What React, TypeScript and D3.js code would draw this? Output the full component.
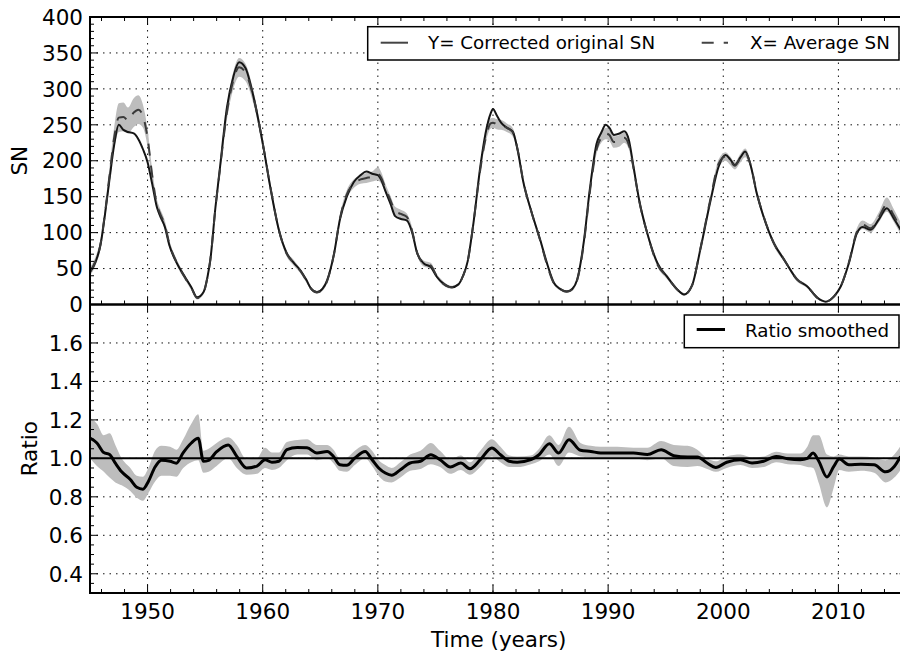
import React from 'react';
import * as d3 from 'd3';

// ---------- data ----------
const yearTicks = [1950, 1960, 1970, 1980, 1990, 2000, 2010];
const snTicks = [0, 50, 100, 150, 200, 250, 300, 350, 400];
const ratioTicks = [0.4, 0.6, 0.8, 1.0, 1.2, 1.4, 1.6];

const legendTop = ['Y= Corrected original SN', 'X= Average SN'];
const legendBottom = ['Ratio smoothed'];

// Y = corrected original SN : [year, value]
const correctedSN: [number, number][] = [
  [1945.0, 45], [1945.5, 60], [1945.9, 82], [1946.3, 125], [1946.7, 175], [1947.1, 222], [1947.5, 250], [1947.9, 243],
  [1948.3, 240], [1948.8, 238], [1949.2, 230], [1949.6, 216], [1950.0, 198], [1950.4, 168], [1950.8, 136], [1951.1, 123],
  [1951.5, 108], [1951.9, 82], [1952.4, 62], [1952.8, 50], [1953.3, 37], [1953.8, 24], [1954.3, 10], [1954.85, 17],
  [1955.2, 38], [1955.45, 62], [1955.9, 136], [1956.3, 192], [1956.9, 275], [1957.45, 317], [1957.95, 337], [1958.5, 329],
  [1959.2, 289], [1960.05, 220], [1960.65, 164], [1961.4, 104], [1962.1, 71], [1962.7, 58], [1963.3, 47], [1963.8, 34],
  [1964.2, 22], [1964.7, 17], [1965.2, 22], [1965.6, 34], [1966.2, 71], [1966.7, 118], [1967.3, 150], [1967.9, 170],
  [1968.5, 180], [1969.0, 185], [1969.5, 182], [1970.0, 180], [1970.3, 173], [1970.65, 158], [1971.1, 140], [1971.5, 123],
  [1972.0, 119], [1972.5, 117], [1973.0, 99], [1973.4, 72], [1974.0, 57], [1974.6, 52], [1975.1, 39], [1975.7, 29],
  [1976.4, 24], [1977.0, 28], [1977.4, 40], [1977.8, 60], [1978.3, 113], [1978.9, 192], [1979.35, 238], [1979.8, 266],
  [1980.0, 272], [1980.3, 264], [1980.7, 253], [1981.2, 246], [1981.7, 241], [1982.2, 210], [1982.6, 173], [1983.3, 131],
  [1984.1, 90], [1984.7, 57], [1985.3, 30], [1985.8, 22], [1986.4, 18], [1986.9, 22], [1987.3, 34], [1987.9, 89],
  [1988.4, 159], [1989.0, 224], [1989.4, 239], [1989.8, 250], [1990.1, 246], [1990.5, 236], [1991.0, 238], [1991.4, 241],
  [1991.8, 229], [1992.2, 192], [1992.7, 145], [1993.4, 99], [1994.3, 57], [1995.1, 39], [1996.0, 21], [1996.6, 14],
  [1997.3, 27], [1998.0, 76], [1998.9, 145], [1999.6, 192], [2000.2, 208], [2000.6, 202], [2001.0, 194], [2001.5, 205],
  [2001.9, 213], [2002.4, 192], [2002.9, 155], [2003.5, 122], [2004.4, 85], [2005.3, 62], [2006.4, 35], [2007.3, 25],
  [2008.2, 9], [2008.9, 4], [2009.6, 11], [2010.2, 25], [2010.9, 57], [2011.6, 99], [2012.1, 108], [2012.8, 104],
  [2013.5, 118], [2014.2, 134], [2014.8, 120], [2015.4, 104],
];

// X = average SN : [year, value, band half-width]
const averageSN: [number, number, number][] = [
  [1945.0, 46, 6], [1945.5, 61, 6], [1945.9, 83, 7], [1946.3, 127, 9], [1946.7, 180, 12], [1947.1, 232, 15],
  [1947.5, 260, 20], [1947.9, 261, 20], [1948.3, 256, 18], [1948.8, 267, 20], [1949.2, 271, 20], [1949.6, 262, 16],
  [1950.0, 232, 12], [1950.4, 180, 9], [1950.8, 140, 7], [1951.1, 126, 7], [1951.5, 111, 6], [1951.9, 84, 5],
  [1952.4, 63, 4], [1952.8, 50, 4], [1953.3, 36, 3], [1953.8, 23, 3], [1954.3, 9, 2], [1954.85, 16, 2],
  [1955.2, 38, 3], [1955.45, 62, 4], [1955.9, 135, 6], [1956.3, 190, 8], [1956.9, 268, 10], [1957.45, 312, 12],
  [1957.95, 330, 13], [1958.5, 323, 12], [1959.2, 288, 9], [1960.05, 220, 7], [1960.65, 165, 6], [1961.4, 104, 5],
  [1962.1, 70, 4], [1962.7, 58, 4], [1963.3, 46, 3], [1963.8, 33, 3], [1964.2, 22, 2], [1964.7, 17, 2],
  [1965.2, 21, 2], [1965.6, 33, 3], [1966.2, 71, 4], [1966.7, 119, 5], [1967.3, 153, 6], [1967.9, 168, 6],
  [1968.5, 174, 6], [1969.0, 176, 7], [1969.5, 178, 7], [1970.0, 182, 9], [1970.3, 176, 8], [1970.65, 162, 6],
  [1971.1, 145, 6], [1971.5, 130, 6], [1972.0, 126, 6], [1972.5, 122, 5], [1973.0, 101, 5], [1973.4, 73, 4],
  [1974.0, 57, 4], [1974.6, 54, 4], [1975.1, 40, 3], [1975.7, 29, 3], [1976.4, 24, 2], [1977.0, 28, 2],
  [1977.4, 40, 3], [1977.8, 60, 3], [1978.3, 113, 4], [1978.9, 188, 5], [1979.35, 230, 6], [1979.8, 252, 7],
  [1980.0, 253, 7], [1980.3, 251, 7], [1980.7, 250, 7], [1981.2, 246, 6], [1981.7, 240, 6], [1982.2, 211, 5],
  [1982.6, 174, 5], [1983.3, 131, 4], [1984.1, 89, 4], [1984.7, 55, 3], [1985.3, 29, 2], [1985.8, 22, 2],
  [1986.4, 18, 2], [1986.9, 21, 2], [1987.3, 33, 2], [1987.9, 86, 3], [1988.4, 155, 5], [1989.0, 216, 6],
  [1989.4, 232, 7], [1989.8, 238, 8], [1990.1, 236, 8], [1990.5, 226, 8], [1991.0, 228, 8], [1991.4, 232, 7],
  [1991.8, 222, 6], [1992.2, 190, 5], [1992.7, 144, 5], [1993.4, 99, 4], [1994.3, 55, 3], [1995.1, 39, 3],
  [1996.0, 21, 2], [1996.6, 14, 2], [1997.3, 27, 2], [1998.0, 77, 3], [1998.9, 148, 5], [1999.6, 196, 6],
  [2000.2, 206, 6], [2000.6, 200, 6], [2001.0, 193, 5], [2001.5, 204, 6], [2001.9, 211, 6], [2002.4, 193, 5],
  [2002.9, 156, 5], [2003.5, 123, 4], [2004.4, 85, 4], [2005.3, 62, 3], [2006.4, 35, 3], [2007.3, 25, 2],
  [2008.2, 9, 2], [2008.9, 4, 1], [2009.6, 11, 2], [2010.2, 25, 2], [2010.9, 58, 3], [2011.6, 101, 5],
  [2012.1, 111, 6], [2012.8, 106, 6], [2013.5, 121, 7], [2014.2, 139, 10], [2014.8, 124, 9], [2015.4, 106, 8],
];

// Ratio smoothed : [year, value, low, high]
const ratioSmoothed: [number, number, number, number][] = [
  [1945.0, 1.105, 1.0, 1.21], [1945.6, 1.08, 0.96, 1.18], [1946.2, 1.03, 0.93, 1.12], [1946.7, 1.02, 0.9, 1.13],
  [1947.2, 0.975, 0.875, 1.07], [1947.75, 0.93, 0.86, 1.0], [1948.5, 0.89, 0.83, 0.95], [1949.06, 0.85, 0.795, 0.91],
  [1949.6, 0.84, 0.78, 0.905], [1950.07, 0.88, 0.82, 0.95], [1950.65, 0.955, 0.88, 1.04], [1951.2, 0.99, 0.91, 1.065],
  [1951.96, 0.985, 0.91, 1.06], [1952.5, 0.975, 0.905, 1.045], [1953.1, 1.03, 0.95, 1.1], [1953.8, 1.08, 0.98, 1.18],
  [1954.4, 1.105, 0.99, 1.23], [1954.85, 0.985, 0.925, 1.04], [1955.3, 0.99, 0.93, 1.05], [1956.0, 1.035, 0.96, 1.08],
  [1957.0, 1.07, 1.0, 1.11], [1957.75, 1.01, 0.95, 1.07], [1958.6, 0.95, 0.915, 0.995], [1959.5, 0.96, 0.92, 1.0],
  [1960.2, 0.993, 0.95, 1.055], [1960.8, 0.98, 0.94, 1.03], [1961.4, 0.985, 0.95, 1.03], [1962.1, 1.045, 0.99, 1.085],
  [1963.0, 1.057, 1.02, 1.095], [1963.85, 1.055, 1.02, 1.1], [1964.7, 1.028, 0.99, 1.07], [1965.6, 1.036, 1.0, 1.07],
  [1966.15, 1.01, 0.975, 1.045], [1966.7, 0.967, 0.935, 1.0], [1967.3, 0.964, 0.93, 1.005], [1968.0, 1.002, 0.965, 1.04],
  [1968.9, 1.036, 1.0, 1.07], [1969.5, 0.993, 0.96, 1.04], [1970.07, 0.95, 0.91, 0.99], [1970.65, 0.924, 0.88, 0.965],
  [1971.2, 0.912, 0.875, 0.95], [1971.96, 0.941, 0.9, 0.98], [1972.8, 0.976, 0.935, 1.02], [1973.7, 0.985, 0.945, 1.04],
  [1974.6, 1.019, 0.97, 1.08], [1975.4, 0.993, 0.955, 1.04], [1976.3, 0.955, 0.92, 0.995], [1977.2, 0.976, 0.94, 1.015],
  [1978.0, 0.946, 0.915, 0.98], [1978.9, 0.993, 0.955, 1.04], [1979.9, 1.054, 1.01, 1.1], [1980.65, 1.019, 0.98, 1.06],
  [1981.4, 0.985, 0.955, 1.015], [1982.1, 0.98, 0.955, 1.01], [1983.3, 0.993, 0.97, 1.015], [1984.0, 1.019, 0.985, 1.05],
  [1984.9, 1.076, 1.02, 1.12], [1985.7, 1.028, 0.96, 1.07], [1986.6, 1.097, 1.03, 1.165], [1987.6, 1.042, 1.01, 1.08],
  [1988.5, 1.036, 1.005, 1.065], [1989.35, 1.028, 1.0, 1.06], [1990.8, 1.028, 1.0, 1.06], [1992.2, 1.028, 1.0, 1.055],
  [1993.4, 1.02, 0.99, 1.055], [1994.6, 1.045, 1.0, 1.09], [1995.7, 1.014, 0.96, 1.07], [1996.9, 1.007, 0.955, 1.065],
  [1997.75, 1.007, 0.96, 1.045], [1998.6, 0.976, 0.945, 1.0], [1999.35, 0.953, 0.93, 0.985], [2000.3, 0.98, 0.95, 1.01],
  [2001.5, 0.993, 0.965, 1.02], [2002.5, 0.976, 0.95, 1.005], [2003.5, 0.985, 0.955, 1.01], [2004.6, 1.01, 0.98, 1.035],
  [2005.6, 0.998, 0.97, 1.025], [2006.7, 0.993, 0.965, 1.025], [2007.3, 1.0, 0.955, 1.06], [2007.8, 1.028, 0.95, 1.12],
  [2008.3, 0.985, 0.87, 1.12], [2009.0, 0.903, 0.745, 1.02], [2009.6, 0.958, 0.85, 1.01], [2010.07, 0.997, 0.94, 1.02],
  [2010.9, 0.967, 0.93, 1.01], [2011.96, 0.97, 0.935, 1.01], [2013.1, 0.967, 0.925, 1.005], [2014.1, 0.93, 0.875, 0.99],
  [2014.85, 0.958, 0.9, 1.02], [2015.4, 1.01, 0.94, 1.065],
];

// ---------- layout ----------
const W = 900;
const H = 655;
const L = 90;
const R = 907.5;
const T1 = 17;
const B1 = 304.5;
const B2 = 593;
const FONT = 'DejaVu Sans, sans-serif';
const BAND = '#bdbdbd';
const FS = 21.5;

const x = d3.scaleLinear().domain([1945, 2016]).range([L, R]);
const yTop = d3.scaleLinear().domain([0, 400]).range([B1, T1]);
const yBot = d3.scaleLinear().domain([0.3, 1.8]).range([B2, B1]);

const range = (a: number, b: number, s: number) => {
  const out: number[] = [];
  for (let v = a; v <= b + 1e-9; v += s) out.push(+v.toFixed(4));
  return out;
};

export default function App() {
  const curve = d3.curveMonotoneX;
  const lineY = d3.line<[number, number]>().x(d => x(d[0])).y(d => yTop(d[1])).curve(curve);
  const lineX = d3.line<[number, number, number]>().x(d => x(d[0])).y(d => yTop(d[1])).curve(curve);
  const bandX = d3.area<[number, number, number]>().x(d => x(d[0])).y0(d => yTop(d[1] - d[2])).y1(d => yTop(d[1] + d[2])).curve(curve);
  const lineR = d3.line<[number, number, number, number]>().x(d => x(d[0])).y(d => yBot(d[1])).curve(curve);
  const bandR = d3.area<[number, number, number, number]>().x(d => x(d[0])).y0(d => yBot(d[2])).y1(d => yBot(d[3])).curve(curve);

  const minorYears = range(1946, 2016, 2).filter(v => v % 10 !== 0);
  const minorSN = range(0, 400, 10).filter(v => v % 50 !== 0);
  const minorRatio = range(0.3, 1.8, 0.05).filter(v => Math.abs(v * 5 - Math.round(v * 5)) > 1e-6);
  const majorRatioAll = range(0.4, 1.8, 0.2);

  const grid = { stroke: '#111', strokeWidth: 1, strokeDasharray: '1.5,5' };
  const tk = { stroke: '#000', strokeWidth: 1 };
  const MAJ = 8;
  const MIN = 4;

  return (
    <svg width={W} height={H} style={{ position: 'absolute', left: 0, top: 0, background: '#fff' }} fontFamily={FONT}>
      <defs>
        <clipPath id="c1"><rect x={L} y={T1} width={R - L} height={B1 - T1} /></clipPath>
        <clipPath id="c2"><rect x={L} y={B1} width={R - L} height={B2 - B1} /></clipPath>
      </defs>
      <rect x={0} y={0} width={W} height={H} fill="#fff" />

      {/* grids */}
      {snTicks.filter(v => v > 0 && v < 400).map(v => (
        <line key={'gs' + v} x1={L} x2={R} y1={yTop(v)} y2={yTop(v)} {...grid} />
      ))}
      {ratioTicks.map(v => (
        <line key={'gr' + v} x1={L} x2={R} y1={yBot(v)} y2={yBot(v)} {...grid} />
      ))}
      {yearTicks.map(v => (
        <g key={'gv' + v}>
          <line x1={x(v)} x2={x(v)} y1={T1} y2={B1} {...grid} />
          <line x1={x(v)} x2={x(v)} y1={B1} y2={B2} {...grid} />
        </g>
      ))}

      {/* top panel data */}
      <g clipPath="url(#c1)">
        <path d={bandX(averageSN) || ''} fill={BAND} stroke="none" />
        <path d={lineY(correctedSN) || ''} fill="none" stroke="#151515" strokeWidth={2} />
        <path d={lineX(averageSN) || ''} fill="none" stroke="#3a3a3a" strokeWidth={2} strokeDasharray="12,10" />
      </g>

      {/* bottom panel data */}
      <g clipPath="url(#c2)">
        <path d={bandR(ratioSmoothed) || ''} fill={BAND} stroke="none" />
        <line x1={L} x2={R} y1={yBot(1)} y2={yBot(1)} stroke="#000" strokeWidth={2} />
        <path d={lineR(ratioSmoothed) || ''} fill="none" stroke="#000" strokeWidth={3} />
      </g>

      {/* ticks */}
      {yearTicks.map(v => (
        <g key={'tx1' + v}>
          <line x1={x(v)} x2={x(v)} y1={T1} y2={T1 + MAJ} {...tk} />
          <line x1={x(v)} x2={x(v)} y1={B1} y2={B1 - MAJ} {...tk} />
          <line x1={x(v)} x2={x(v)} y1={B1} y2={B1 + MAJ} {...tk} />
          <line x1={x(v)} x2={x(v)} y1={B2} y2={B2 - MAJ} {...tk} />
        </g>
      ))}
      {minorYears.map(v => (
        <g key={'mx' + v}>
          <line x1={x(v)} x2={x(v)} y1={T1} y2={T1 + MIN} {...tk} />
          <line x1={x(v)} x2={x(v)} y1={B1} y2={B1 - MIN} {...tk} />
          <line x1={x(v)} x2={x(v)} y1={B2} y2={B2 - MIN} {...tk} />
        </g>
      ))}
      {snTicks.map(v => (
        <g key={'ty1' + v}>
          <line x1={L} x2={L + MAJ} y1={yTop(v)} y2={yTop(v)} {...tk} />
          <line x1={R} x2={R - MAJ} y1={yTop(v)} y2={yTop(v)} {...tk} />
        </g>
      ))}
      {minorSN.map(v => (
        <g key={'my1' + v}>
          <line x1={L} x2={L + MIN} y1={yTop(v)} y2={yTop(v)} {...tk} />
          <line x1={R} x2={R - MIN} y1={yTop(v)} y2={yTop(v)} {...tk} />
        </g>
      ))}
      {majorRatioAll.map(v => (
        <g key={'ty2' + v}>
          <line x1={L} x2={L + MAJ} y1={yBot(v)} y2={yBot(v)} {...tk} />
          <line x1={R} x2={R - MAJ} y1={yBot(v)} y2={yBot(v)} {...tk} />
        </g>
      ))}
      {minorRatio.map(v => (
        <g key={'my2' + v}>
          <line x1={L} x2={L + MIN} y1={yBot(v)} y2={yBot(v)} {...tk} />
          <line x1={R} x2={R - MIN} y1={yBot(v)} y2={yBot(v)} {...tk} />
        </g>
      ))}

      {/* frames */}
      <rect x={L} y={T1} width={R - L} height={B1 - T1} fill="none" stroke="#000" strokeWidth={2} />
      <rect x={L} y={B1} width={R - L} height={B2 - B1} fill="none" stroke="#000" strokeWidth={2} />

      {/* tick labels */}
      {snTicks.map(v => (
        <text key={'ls' + v} x={L - 7} y={yTop(v)} dy="0.36em" textAnchor="end" fontSize={FS} fill="#000">{v}</text>
      ))}
      {ratioTicks.map(v => (
        <text key={'lr' + v} x={L - 7} y={yBot(v)} dy="0.36em" textAnchor="end" fontSize={FS} fill="#000">{d3.format('.1f')(v)}</text>
      ))}
      {yearTicks.map(v => (
        <text key={'ly' + v} x={x(v)} y={618.5} textAnchor="middle" fontSize={FS} fill="#000">{v}</text>
      ))}

      {/* axis labels */}
      <text transform={`translate(26.5, ${(T1 + B1) / 2}) rotate(-90)`} textAnchor="middle" fontSize={FS} fill="#000">SN</text>
      <text transform={`translate(36.5, ${(B1 + B2) / 2}) rotate(-90)`} textAnchor="middle" fontSize={FS} fill="#000">Ratio</text>
      <text x={(L + R) / 2} y={647} textAnchor="middle" fontSize={FS} fill="#000">Time (years)</text>

      {/* legend top */}
      <g>
        <rect x={367.7} y={26.7} width={899 - 367.7} height={33.3} fill="#fff" stroke="#000" strokeWidth={1.5} />
        <line x1={380.7} x2={408} y1={42.7} y2={42.7} stroke="#444" strokeWidth={2} />
        <text x={428} y={49.3} fontSize={18.3} fill="#000">{legendTop[0]}</text>
        <line x1={701.7} x2={728} y1={42.7} y2={42.7} stroke="#444" strokeWidth={2} strokeDasharray="12,10" />
        <text x={750} y={49.3} fontSize={18.3} fill="#000">{legendTop[1]}</text>
      </g>

      {/* legend bottom */}
      <g>
        <rect x={684.3} y={315} width={899 - 684.3} height={32.7} fill="#fff" stroke="#000" strokeWidth={1.5} />
        <line x1={696.7} x2={725} y1={329.5} y2={329.5} stroke="#000" strokeWidth={3} />
        <text x={745} y={336.7} fontSize={18.3} fill="#000">{legendBottom[0]}</text>
      </g>
    </svg>
  );
}
